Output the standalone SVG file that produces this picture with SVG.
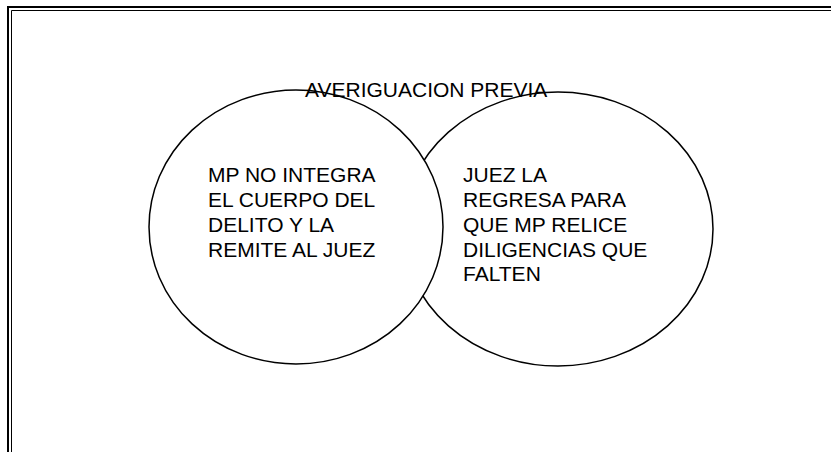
<svg xmlns="http://www.w3.org/2000/svg" width="831" height="452" viewBox="0 0 831 452">
<style>
.frame{fill:none;stroke:#000}
.ell{fill:#fff;stroke:#000;stroke-width:1.5}
.t{font-family:"Liberation Sans",Arial,sans-serif;font-size:21px;fill:#000}
</style>
<rect width="831" height="452" fill="#fff"/>
<g id="frame">
<path class="frame" stroke-width="2" d="M8,452 V7 H831"/>
<path class="frame" stroke-width="1" d="M11.5,452 V10.5 H831"/>
</g>
<g id="node-right">
<ellipse class="ell" cx="558" cy="229" rx="155" ry="137"/>
<text class="t" x="463" y="182">JUEZ LA</text>
<text class="t" x="463" y="207">REGRESA PARA</text>
<text class="t" x="463" y="232">QUE MP RELICE</text>
<text class="t" x="463" y="256.5">DILIGENCIAS QUE</text>
<text class="t" x="463" y="281">FALTEN</text>
</g>
<g id="node-left">
<ellipse class="ell" cx="296" cy="227" rx="147" ry="137"/>
<text class="t" x="208" y="182">MP NO INTEGRA</text>
<text class="t" x="208" y="207">EL CUERPO DEL</text>
<text class="t" x="208" y="232">DELITO Y LA</text>
<text class="t" x="208" y="256.5">REMITE AL JUEZ</text>
</g>
<g id="title">
<text class="t" x="305" y="97">AVERIGUACION PREVIA</text>
</g>
<g id="connectors"/>
</svg>
